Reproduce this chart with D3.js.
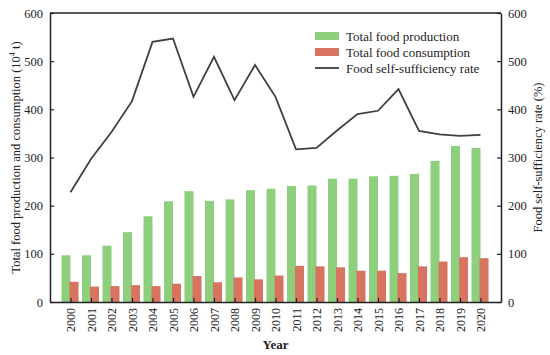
<!DOCTYPE html>
<html>
<head>
<meta charset="utf-8">
<script src="https://d3js.org/d3.v7.min.js"></script>
<style>
  body { margin: 0; background: #fff; }
  svg text { font-family: "Liberation Serif", "Times New Roman", serif; fill: #222; }
</style>
</head>
<body>
<svg width="550" height="355"></svg>
<script>
var years = ["2000","2001","2002","2003","2004","2005","2006","2007","2008","2009","2010",
             "2011","2012","2013","2014","2015","2016","2017","2018","2019","2020"];
var production = [97, 97, 117, 145, 178, 209, 230, 210, 213, 232, 235,
                  241, 242, 256, 256, 261, 262, 266, 293, 324, 320];
var consumption = [42, 32, 33, 35, 33, 38, 54, 41, 51, 47, 55,
                   75, 74, 72, 65, 65, 60, 74, 84, 93, 91];
var selfRate = [228, 297, 353, 417, 540, 547, 426, 509, 419, 492, 426,
                317, 320, 356, 390, 397, 442, 355, 348, 345, 347];
var leftTicks = [0, 100, 200, 300, 400, 500, 600];
var rightTicks = [0, 100, 200, 300, 400, 500, 600];

var svg = d3.select("svg"),
    margin = {top: 13, right: 49, bottom: 53, left: 50},
    width = +svg.attr("width") - margin.left - margin.right,
    height = +svg.attr("height") - margin.top - margin.bottom,
    g = svg.append("g").attr("transform", "translate(" + margin.left + "," + margin.top + ")");

var x = d3.scalePoint().domain(years).range([0, width]).padding(1);
var yL = d3.scaleLinear().domain([0, 600]).range([height, 0]);
var yR = d3.scaleLinear().domain([0, 600]).range([height, 0]);
var barW = 9;

// bars
g.selectAll(".prod").data(years).enter().append("rect")
  .attr("x", function(d) { return x(d) - barW; })
  .attr("y", function(d, i) { return yL(production[i]); })
  .attr("width", barW)
  .attr("height", function(d, i) { return height - yL(production[i]); })
  .attr("fill", "#8dcf7d");

g.selectAll(".cons").data(years).enter().append("rect")
  .attr("x", function(d) { return x(d) - 1; })
  .attr("y", function(d, i) { return yL(consumption[i]); })
  .attr("width", barW)
  .attr("height", function(d, i) { return height - yL(consumption[i]); })
  .attr("fill", "#d6745f");

// line
var line = d3.line()
  .x(function(d, i) { return x(years[i]); })
  .y(function(d) { return yR(d); });

g.append("path")
  .attr("fill", "none")
  .attr("stroke", "#404040")
  .attr("stroke-width", 1.8)
  .attr("stroke-linejoin", "miter")
  .attr("d", line(selfRate));

// axes
var xAxis = g.append("g")
  .attr("transform", "translate(0," + height + ")")
  .call(d3.axisBottom(x).tickSizeInner(-4).tickSizeOuter(0));
xAxis.selectAll("text")
  .attr("transform", "rotate(-90)")
  .attr("x", -6).attr("y", 0).attr("dy", "0.35em")
  .attr("text-anchor", "end")
  .style("font-size", "12px");

var yAxisL = g.append("g")
  .call(d3.axisLeft(yL).tickValues(leftTicks).tickSizeInner(-4).tickSizeOuter(0).tickPadding(7));
yAxisL.selectAll("text").style("font-size", "12.5px");

var yAxisR = g.append("g")
  .attr("transform", "translate(" + width + ",0)")
  .call(d3.axisRight(yR).tickValues(rightTicks).tickSizeInner(-4).tickSizeOuter(0).tickPadding(7));
yAxisR.selectAll("text").style("font-size", "12.5px");

// top frame
g.append("line").attr("x1", 0).attr("x2", width).attr("y1", 0).attr("y2", 0)
  .attr("stroke", "#222").attr("stroke-width", 1.5);
g.selectAll(".domain").attr("stroke", "#222").attr("stroke-width", 1.5);
g.selectAll(".tick line").attr("stroke", "#222").attr("stroke-width", 1.2);

// axis titles
svg.append("text")
  .attr("transform", "translate(16," + (margin.top + height / 2) + ") rotate(-90)")
  .attr("text-anchor", "middle")
  .attr("dy", "0.35em")
  .style("font-size", "12.5px")
  .html("Total food production and consumption (10<tspan dy='-5' font-size='8px'>4</tspan><tspan dy='5'> t)</tspan>");

svg.append("text")
  .attr("transform", "translate(538," + (margin.top + height / 2) + ") rotate(-90)")
  .attr("text-anchor", "middle")
  .attr("dy", "0.35em")
  .style("font-size", "12.5px")
  .text("Food self-sufficiency rate (%)");

svg.append("text")
  .attr("x", margin.left + width / 2)
  .attr("y", 349)
  .attr("text-anchor", "middle")
  .style("font-size", "13px")
  .style("font-weight", "bold")
  .text("Year");

// legend
var legend = svg.append("g").attr("transform", "translate(315,36)");
var items = [
  {label: "Total food production", type: "rect", color: "#8dcf7d"},
  {label: "Total food consumption", type: "rect", color: "#d6745f"},
  {label: "Food self-sufficiency rate", type: "line", color: "#404040"}
];
items.forEach(function(it, i) {
  var row = legend.append("g").attr("transform", "translate(0," + (i * 16) + ")");
  if (it.type === "rect") {
    row.append("rect").attr("x", 0).attr("y", -4).attr("width", 24).attr("height", 8).attr("fill", it.color);
  } else {
    row.append("line").attr("x1", 0).attr("x2", 24).attr("y1", 0).attr("y2", 0)
      .attr("stroke", it.color).attr("stroke-width", 1.8);
  }
  row.append("text").attr("x", 31).attr("y", 0).attr("dy", "0.35em")
    .style("font-size", "13px").text(it.label);
});
</script>
</body>
</html>
